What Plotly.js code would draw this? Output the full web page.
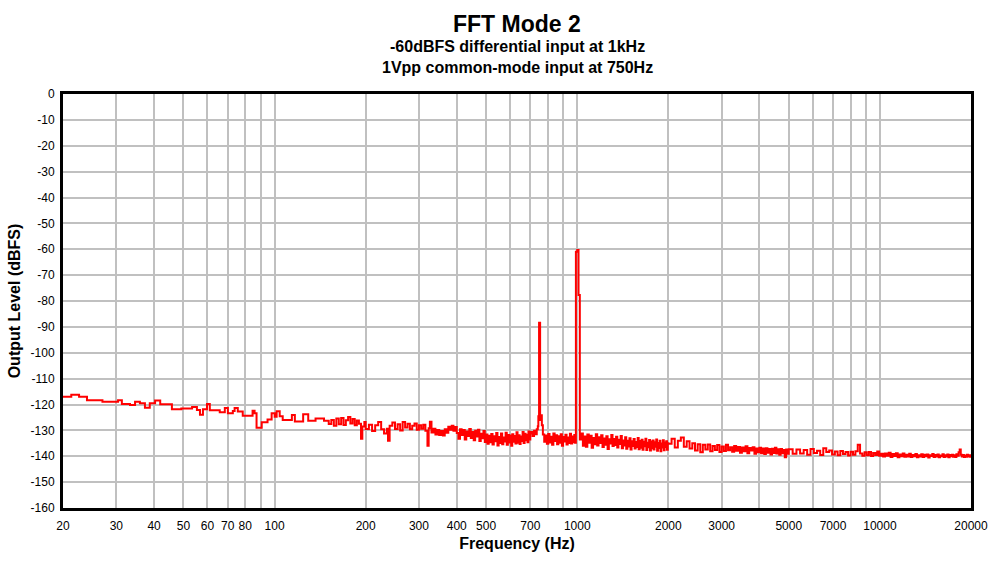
<!DOCTYPE html>
<html>
<head>
<meta charset="utf-8">
<script src="https://cdn.plot.ly/plotly-3.0.1.min.js"></script>
<style>html,body{margin:0;padding:0;background:#fff;}#chart{width:1006px;height:561px;}</style>
</head>
<body>
<div id="chart"></div>
<script>
// Frequency (Hz) of each plotted bin
const freqHz = [
  20, 21.3, 22.6, 24.0, 27.0, 30.4, 31.3, 33.3, 34.6, 35.9, 37.3, 38.7, 40.3, 41.9, 45.8, 49.2, 53.4, 55.4, 56.7, 58.0,
  59.8, 61.1, 65.9, 68.5, 70.1, 72.8, 73.8, 75.6, 78.5, 84.6, 85.9, 87.2, 90.7, 94.8, 97.8, 100.1, 101.6, 104.0, 106.4, 114.1,
  116.7, 124.3, 129.2, 136.6, 145.7,
  151, 154, 157, 160, 163, 166, 169, 172, 175, 178, 181, 184, 187, 190, 193, 195, 198,
  200, 205, 210, 215, 220, 225, 230, 235, 237, 240, 245, 250, 255, 260, 265, 270, 275, 280, 285, 290, 295, 300,
  305, 310, 315, 320, 323, 326, 330, 335, 340, 345, 350, 355, 360, 365, 370, 375, 380, 385, 390, 395, 400,
  405, 410, 415, 420, 425, 430, 435, 440, 445, 450,
  455, 460, 465, 470, 475, 480, 485, 490, 495, 500,
  505, 510, 515, 520, 525, 530, 535, 540, 545, 550,
  555, 560, 565, 570, 575, 580, 585, 590, 595, 600,
  605, 610, 615, 620, 625, 630, 635, 640, 645, 650,
  655, 660, 665, 670, 675, 680, 685, 690, 695, 700,
  704, 712, 720, 728, 735, 741, 744, 748, 754, 758, 764,
  770, 778, 786, 794, 802, 810, 818, 826, 834, 842,
  850, 858, 866, 874, 882, 890, 898, 906, 914, 922,
  930, 938, 946, 954, 962, 970, 978, 984,
  990, 1000, 1010,
  1020, 1032, 1044, 1056, 1068, 1080, 1092, 1104, 1116, 1128,
  1140, 1152, 1164, 1176, 1188, 1200, 1212, 1224, 1236, 1248,
  1260, 1272, 1284, 1296, 1308, 1320, 1332, 1344, 1356, 1368,
  1380, 1392, 1404, 1416, 1428, 1440, 1452, 1464, 1476, 1488,
  1500, 1512, 1524, 1536, 1548, 1560, 1572, 1584, 1596, 1608,
  1620, 1632, 1644, 1656, 1668, 1680, 1692, 1704, 1716, 1728,
  1740, 1752, 1764, 1776, 1788, 1800, 1812, 1824, 1836, 1848,
  1860, 1872, 1884, 1896, 1908, 1920, 1932, 1944, 1956, 1968,
  1980, 1992,
  2000, 2050, 2100, 2150, 2200, 2250, 2300, 2350, 2400, 2450, 2500, 2550, 2600, 2650, 2700, 2750, 2800, 2850, 2900, 2950, 3000,
  3050, 3100, 3150, 3200, 3250, 3300, 3350, 3400, 3450, 3500, 3550, 3600, 3650, 3700, 3750, 3800, 3850, 3900, 3950, 4000,
  4050, 4100, 4150, 4200, 4250, 4300, 4350, 4400, 4450, 4500, 4550, 4600, 4650, 4700, 4750, 4800, 4850, 4900, 4950, 5000,
  5150, 5300, 5450, 5600, 5750, 5900, 6050, 6200, 6350, 6500, 6650, 6800, 6950, 7100, 7250, 7400, 7550, 7700, 7850, 8000,
  8150, 8300, 8450, 8600, 8750, 8900, 9050, 9200, 9350, 9500, 9650, 9800, 9950, 10100, 10250, 10400, 10550, 10700, 10850, 11000,
  11150, 11300, 11450, 11600, 11750, 11900, 12050, 12200, 12350, 12500, 12650, 12800, 12950, 13100, 13250, 13400, 13550, 13700, 13850, 14000,
  14150, 14300, 14450, 14600, 14750, 14900, 15050, 15200, 15350, 15500, 15650, 15800, 15950, 16100, 16250, 16400, 16550, 16700, 16850, 17000,
  17150, 17300, 17450, 17600, 17750, 17900, 18050, 18200, 18350, 18500, 18650, 18800, 18950, 19100, 19250, 19400, 19550, 19700, 19850, 20000
];
// Output level (dBFS) of each bin
const levelDbfs = [
  -117.0, -116.2, -117.0, -118.4, -118.9, -118.4, -119.8, -120.2, -118.9, -119.5, -121.3, -119.5, -118.5, -119.9, -121.8, -121.5, -121.0, -122.1, -124.0, -121.8,
  -119.8, -122.2, -123.0, -121.4, -123.4, -122.5, -121.4, -122.7, -124.3, -122.4, -123.4, -129.0, -126.9, -125.8, -123.4, -124.7, -122.6, -124.5, -126.0, -124.1,
  -126.6, -123.8, -126.3, -125.4, -126.3,
  -127.5, -126.0, -128.2, -125.4, -127.6, -125.2, -127.9, -126.1, -124.8, -127.3, -125.6, -128.0, -126.2, -127.4, -133.2, -128.5, -126.8,
  -129.5, -127.8, -130.2, -128.0, -126.8, -129.6, -131.2, -129.4, -134.0, -128.2, -127.0, -129.5, -127.6, -130.0, -126.8, -128.9, -127.4, -129.6, -128.2, -127.3, -129.8, -128.0,
  -129.4, -127.8, -130.1, -135.9, -129.2, -126.7, -130.8, -129.4, -131.6, -129.9, -131.8, -130.2, -132.0, -129.6, -130.9, -128.6, -129.8, -128.2, -130.1, -128.7, -131.0,
  -133.2, -129.6, -131.8, -129.9, -133.5, -130.4, -132.2, -129.5, -132.9, -130.6,
  -133.8, -130.1, -132.4, -129.8, -134.1, -131.3, -133.0, -130.2, -134.5, -131.6,
  -135.2, -132.1, -134.6, -131.4, -135.5, -132.3, -134.2, -131.0, -135.8, -132.6,
  -134.9, -131.2, -135.4, -132.8, -134.3, -130.9, -135.6, -131.8, -134.7, -132.0,
  -135.9, -131.5, -134.4, -132.2, -135.1, -130.7, -134.8, -131.9, -135.3, -132.4,
  -134.1, -130.6, -134.9, -131.3, -133.8, -131.7, -134.6, -130.4, -133.5, -131.2,
  -130.6, -132.2, -130.1, -131.5, -129.6, -128.4, -124.5, -88.4, -126.0, -124.2, -128.0,
  -131.6, -134.4, -132.0, -135.2, -131.4, -134.7, -132.5, -135.6, -131.2, -134.1,
  -131.9, -135.4, -132.3, -134.8, -131.5, -135.9, -132.6, -134.3, -131.7, -135.5,
  -132.8, -134.9, -131.3, -135.1, -132.4, -134.6, -131.8, -134.8,
  -61.0, -60.3, -77.7,
  -133.5, -131.2, -135.9, -132.4, -136.3, -131.6, -134.8, -132.1, -136.7, -132.9,
  -135.4, -131.5, -135.8, -132.7, -134.9, -131.9, -136.4, -133.1, -135.6, -132.3,
  -137.2, -133.4, -135.1, -131.8, -136.0, -133.3, -135.7, -132.5, -136.6, -133.6,
  -135.3, -132.2, -136.9, -133.9, -135.8, -132.7, -137.1, -134.0, -136.2, -133.0,
  -137.4, -134.2, -136.0, -133.3, -137.0, -134.5, -136.4, -132.9, -137.3, -134.1,
  -136.7, -133.6, -137.5, -134.4, -136.1, -133.2, -137.6, -134.8, -136.5, -133.7,
  -137.8, -134.3, -136.9, -133.9, -137.4, -134.6, -136.3, -133.5, -137.9, -134.9,
  -136.8, -134.0, -138.1, -135.1, -136.6, -133.8, -137.7, -134.7, -136.4, -134.2,
  -137.5, -135.0,
  -135.2, -133.2, -136.6, -134.0, -132.8, -136.3, -134.2, -137.0, -135.0, -137.8, -135.4, -138.5, -135.6, -137.4, -135.5, -138.1, -136.0, -137.6, -135.7, -138.4, -136.2,
  -138.0, -135.6, -137.7, -136.5, -138.3, -136.0, -137.9, -136.4, -138.6, -136.6, -138.1, -136.1, -138.8, -136.8, -137.8, -136.5, -139.0, -137.0, -138.5, -136.7,
  -138.8, -137.0, -139.1, -136.9, -138.6, -137.2, -139.3, -137.1, -138.7, -136.7, -138.9, -137.3, -139.4, -137.2, -138.8, -137.6, -140.4, -137.4, -139.0, -137.3,
  -139.0, -137.4, -138.9, -137.6, -139.4, -137.2, -138.7, -137.9, -139.5, -136.9, -138.4, -137.8, -139.3, -138.2, -139.6, -138.0, -139.1, -138.4, -139.7, -138.3,
  -139.4, -138.1, -135.6, -138.9, -139.8, -138.5, -139.6, -138.4, -139.9, -138.7, -139.5, -138.2, -139.8, -139.0, -140.1, -138.9, -139.8, -138.6, -140.3, -139.1,
  -139.9, -138.8, -140.4, -139.3, -140.0, -138.9, -140.2, -139.4, -140.1, -139.0, -140.3, -139.5, -140.0, -139.1, -140.4, -139.6, -140.1, -139.2, -140.3, -139.4,
  -140.0, -139.3, -140.5, -139.6, -139.9, -139.1, -140.3, -139.5, -140.1, -139.3, -140.4, -139.7, -140.0, -139.2, -140.3, -139.6, -140.1, -139.3, -140.4, -139.5,
  -140.0, -139.4, -140.2, -139.6, -140.3, -139.2, -139.8, -138.5, -137.4, -139.4, -140.1, -139.5, -140.3, -139.7, -140.2, -139.4, -140.1, -139.6, -140.2, -139.8
];
// Axis tick values / labels
const xGridVals = [20,30,40,50,60,70,80,90,100,200,300,400,500,600,700,800,900,1000,2000,3000,4000,5000,6000,7000,8000,9000,10000,20000];
const xLabelVals = [20,30,40,50,60,70,80,100,200,300,400,500,700,1000,2000,3000,5000,7000,10000,20000];
const yTickVals = [0,-10,-20,-30,-40,-50,-60,-70,-80,-90,-100,-110,-120,-130,-140,-150,-160];
const yTickLabels = ["0","-10","-20","-30","-40","-50","-60","-70","-80","-90","-100","-110","-120","-130","-140","-150","-160"];
const titleText = "FFT Mode 2";
const subtitleLines = ["-60dBFS differential input at 1kHz", "1Vpp common-mode input at 750Hz"];
const xTitle = "Frequency (Hz)";
const yTitle = "Output Level (dBFS)";

const xTickText = xGridVals.map(v => xLabelVals.includes(v) ? String(v) : "");
const FONT = "Liberation Sans, Arial, sans-serif";

const trace = {
  x: freqHz, y: levelDbfs, type: "scatter", mode: "lines",
  line: {color: "#ff0000", width: 2, shape: "hv"},
  hoverinfo: "x+y"
};

const layout = {
  width: 1006, height: 561,
  margin: {l: 63, r: 35, t: 94, b: 53},
  paper_bgcolor: "#ffffff", plot_bgcolor: "#ffffff",
  showlegend: false,
  font: {family: FONT, size: 12, color: "#000"},
  xaxis: {
    type: "log", range: [Math.log10(20), Math.log10(20000)],
    tickmode: "array", tickvals: xGridVals, ticktext: xTickText,
    showgrid: true, gridcolor: "#c0c0c0", gridwidth: 2,
    showline: true, linecolor: "#000", linewidth: 3, mirror: true,
    ticks: "outside", ticklen: 5, tickcolor: "rgba(0,0,0,0)",
    tickfont: {family: FONT, size: 12, color: "#000"},
    zeroline: false,
    title: {text: "<b>" + xTitle + "</b>", font: {family: FONT, size: 16, color: "#000"}, standoff: 6}
  },
  yaxis: {
    range: [-160, 0], tickmode: "array", tickvals: yTickVals, ticktext: yTickLabels,
    showgrid: true, gridcolor: "#c0c0c0", gridwidth: 2,
    showline: true, linecolor: "#000", linewidth: 3, mirror: true,
    ticks: "outside", ticklen: 3, tickcolor: "rgba(0,0,0,0)",
    tickfont: {family: FONT, size: 12, color: "#000"},
    zeroline: false,
    title: {text: "<b>" + yTitle + "</b>", font: {family: FONT, size: 16, color: "#000"}, standoff: 6}
  },
  annotations: [
    {text: "<b>" + titleText + "</b>", xref: "paper", yref: "paper", x: 0.5, y: 1, yshift: 70, xanchor: "center", yanchor: "middle", showarrow: false, font: {family: FONT, size: 23, color: "#000"}},
    {text: "<b>" + subtitleLines[0] + "</b>", xref: "paper", yref: "paper", x: 0.5, y: 1, yshift: 48, xanchor: "center", yanchor: "middle", showarrow: false, font: {family: FONT, size: 16, color: "#000"}},
    {text: "<b>" + subtitleLines[1] + "</b>", xref: "paper", yref: "paper", x: 0.5, y: 1, yshift: 27, xanchor: "center", yanchor: "middle", showarrow: false, font: {family: FONT, size: 16, color: "#000"}}
  ]
};

Plotly.newPlot("chart", [trace], layout, {displayModeBar: false, staticPlot: true});
</script>
</body>
</html>
